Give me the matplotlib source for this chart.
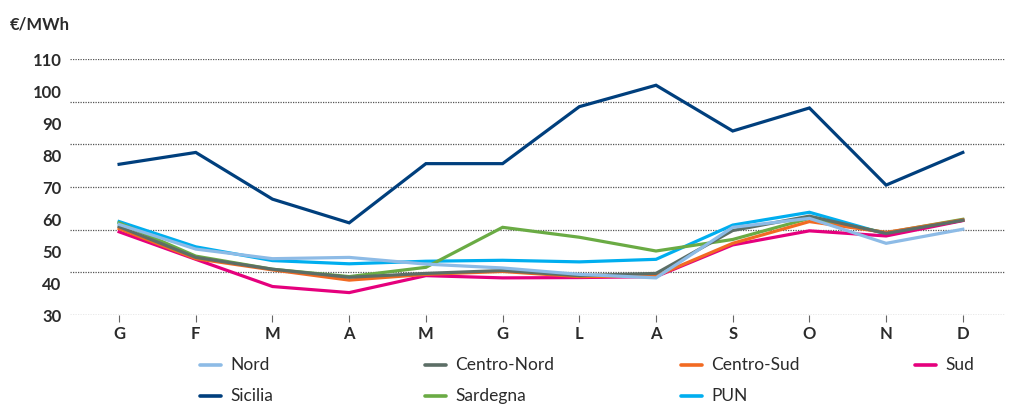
import numpy as np
import matplotlib
matplotlib.use('Agg')
import matplotlib.pyplot as plt
from matplotlib.lines import Line2D

months = ['G', 'F', 'M', 'A', 'M', 'G', 'L', 'A', 'S', 'O', 'N', 'D']

nord = [58.3, 50.6, 47.6, 48.0, 45.9, 44.7, 42.7, 41.6, 57.4, 60.2, 52.4, 56.8]
centro_nord = [57.6, 48.0, 44.3, 41.8, 43.0, 43.9, 42.3, 43.0, 56.4, 60.9, 55.5, 59.6]
centro_sud = [57.0, 47.6, 44.1, 40.9, 42.7, 43.6, 42.0, 42.2, 52.4, 59.2, 55.8, 59.7]
sud = [56.0, 47.4, 38.9, 37.0, 42.3, 41.6, 41.7, 42.0, 51.9, 56.3, 54.7, 59.5]
sicilia = [77.1, 80.8, 66.2, 58.8, 77.3, 77.3, 95.1, 101.8, 87.5, 94.7, 70.6, 80.8]
sardegna = [58.8, 48.4, 44.3, 42.0, 44.9, 57.4, 54.3, 50.0, 53.6, 60.2, 55.7, 59.9]
pun = [59.2, 51.3, 47.0, 46.0, 46.8, 47.1, 46.6, 47.4, 58.1, 62.1, 55.3, 59.6]

y_ticks = [30, 40, 50, 60, 70, 80, 90, 100, 110]

series = {
    'Nord': (nord, '#8dbbe6'),
    'Centro-Nord': (centro_nord, '#5c6e66'),
    'Centro-Sud': (centro_sud, '#f26a22'),
    'Sud': (sud, '#e5007d'),
    'Sicilia': (sicilia, '#003f7d'),
    'Sardegna': (sardegna, '#6aab44'),
    'PUN': (pun, '#00aeef'),
}
draw_order = ['Sicilia', 'PUN', 'Sardegna', 'Sud', 'Centro-Sud', 'Centro-Nord', 'Nord']

TXT = '#2b2b2b'
fig = plt.figure(figsize=(10.11, 4.05), dpi=100)
ax = fig.add_axes([70 / 1011, 1 - 315 / 405, 935 / 1011, 256 / 405])

x = np.arange(len(months))
for name in draw_order:
    vals, col = series[name]
    ax.plot(x, vals, color=col, linewidth=2.3, solid_joinstyle='miter', zorder=3)

# dotted guide lines (7 evenly spaced, as in the original)
for g in np.linspace(30, 110, 7):
    ax.axhline(g, color='#555555', linewidth=0.9, linestyle=(0, (1, 1)), zorder=1)

ax.set_xlim(-0.64, 11.55)
ax.set_ylim(30, 110)
ax.set_yticks(y_ticks)
ax.set_xticks(x)
ax.set_xticklabels(months)
for s in ax.spines.values():
    s.set_visible(False)
ax.tick_params(axis='y', length=0, pad=6, labelsize=12, labelcolor=TXT)
ax.tick_params(axis='x', length=5, width=0.8, color='#666666', pad=3, labelsize=12, labelcolor=TXT)
for lab in ax.get_xticklabels() + ax.get_yticklabels():
    lab.set_fontweight('bold')
    lab.set_family('Lato')

fig.text(10 / 1011, 1 - 25 / 405, '€/MWh', fontsize=12, fontweight='bold', color=TXT,
         family='Lato', va='center', ha='left')

# legend entries placed like the original
legend_pos = {
    'Nord': (200, 365), 'Centro-Nord': (425, 365), 'Centro-Sud': (681, 365), 'Sud': (915, 365),
    'Sicilia': (200, 396), 'Sardegna': (425, 396), 'PUN': (681, 396),
}
for name, (px, py) in legend_pos.items():
    col = series[name][1]
    fy = 1 - py / 405
    fig.add_artist(Line2D([px / 1011, (px + 21) / 1011], [fy, fy], color=col, linewidth=2.6,
                          solid_capstyle='round', transform=fig.transFigure))
    fig.text((px + 30) / 1011, fy, name, fontsize=12.5, color=TXT, family='Lato',
             va='center', ha='left')

fig.savefig('out.png', dpi=100)
